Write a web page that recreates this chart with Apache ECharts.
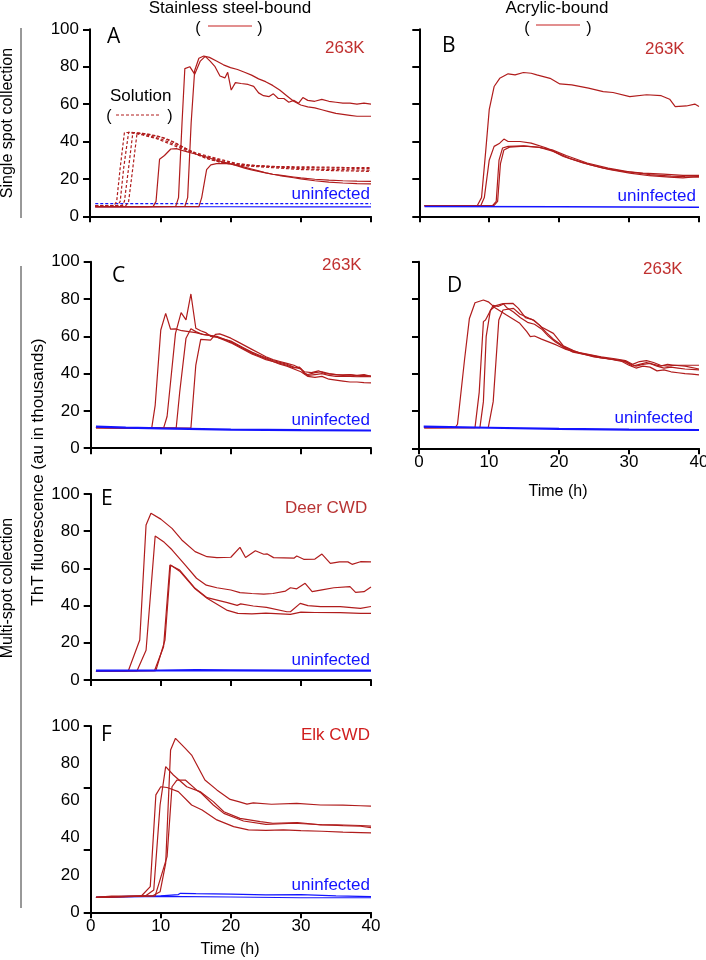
<!DOCTYPE html>
<html><head><meta charset="utf-8">
<script src="https://cdn.jsdelivr.net/npm/echarts@6/dist/echarts.min.js"></script>
<style>html,body{margin:0;padding:0;background:#fff}#c{width:706px;height:960px}</style>
</head><body><div id="c"></div><script>
// ---- axis ticks ----
const xTicks = [0, 10, 20, 30, 40];
const yTicks = [0, 20, 40, 60, 80, 100];
const fTickMarks = [0, 33.33, 66.67, 100];

// ---- Panel A (stainless steel, single spot) ----
const aSolution1 = [[0.75,5.6],[2,5.6],[3.4,5.7],[3.8,8],[4.3,26],[4.9,44.8],[5.5,44.8],[6.5,44.2],[7.5,43.5],[8.5,42.5],[9.5,41.5],[10.5,40],[11.5,38.5],[12.5,37],[13.5,35.5],[14.5,34],[15.5,33],[16.5,32],[17.5,31],[18.5,30],[19.5,29],[20.5,28.3],[22,27.6],[24,27],[26,26.6],[28,26.3],[30,26],[32,26],[34,25.8],[36,25.8],[38,25.6],[40,25.5]];
const aSolution2 = [[0.75,5.6],[2,5.6],[3.9,5.7],[4.3,8],[4.8,26],[5.5,45],[6.2,44.8],[7,44.2],[8,43.5],[9,42.5],[10,41.5],[11,40],[12,38.5],[13,37],[14,35.5],[15,34],[16,33],[17,32],[18,31],[19,30],[20,29],[21,28.2],[22.5,27.5],[24,27],[26,26.5],[28,26],[30,25.5],[32,25.2],[34,25],[36,25],[38,24.8],[40,24.6]];
const aSolution3 = [[0.75,5.6],[4.5,5.7],[4.9,8],[5.5,26],[6.1,44.8],[7,44.5],[8,44],[9,43.2],[10,42.5],[11,41],[12,39.5],[13,37.5],[14,35.5],[15,33.5],[16,32],[17,30.5],[18,29.5],[19,28.5],[20,28],[22,27],[24,26.5],[26,26],[28,25.5],[30,25],[32,24.8],[34,24.5],[36,24.3],[38,24.2],[40,24]];
const aSolution4 = [[0.75,5.6],[5.1,5.7],[5.5,8],[6.1,26],[6.7,44.5],[7.5,44.3],[8.5,43.8],[9.5,43],[10.5,42],[11.5,40.5],[12.5,38.5],[13.5,36.5],[14.5,34.5],[15.5,32.5],[16.5,31],[17.5,30],[18.5,29],[19.5,28.3],[21,27.5],[23,27],[25,26.8],[27,26.6],[29,26.5],[31,26.5],[33,26.3],[35,26.2],[37,26],[40,26]];
const aSteel1 = [[0.75,5.2],[4,5.2],[8,5.2],[9.0,5.3],[9.4,8],[9.9,30.5],[10.6,32.5],[11.5,36],[12.3,36.2],[13,35.3],[14,34.3],[15,33.3],[16,32.3],[17,31.2],[18,30],[19,29],[20,28],[21,27],[22,25.8],[23,24.8],[24,24],[25,23.2],[26,22.5],[27,22],[28,21.5],[29,21],[30,20.5],[32,19.8],[34,19.3],[36,19],[38,18.8],[40,18.7]];
const aSteel2 = [[0.75,5.2],[8,5.2],[15.5,5.2],[15.9,10],[16.6,25],[17.2,27.5],[18,28.2],[19,28.3],[20,28],[21,27.2],[22,26.3],[23,25.3],[24,24.3],[25,23.3],[26,22.5],[27,21.8],[28,21.2],[29,20.6],[30,20],[32,19],[34,18.3],[36,17.8],[38,17.5],[40,17.3]];
const aSteel3 = [[0.75,5.2],[8,5.2],[12.2,5.3],[12.6,10],[13.1,50],[13.5,79],[14.2,80],[14.9,76],[15.7,83],[16.4,85.5],[17.1,83],[17.8,80],[18.5,75],[19.2,74],[19.6,77],[20.1,67.5],[20.7,71.5],[21.5,71],[22.5,70.5],[23.3,69.5],[24,66],[24.7,64.5],[25.5,64],[26.1,65.5],[26.8,63],[27.6,63],[28.3,61],[29,62],[29.7,60.5],[30.3,63.5],[31,62],[32,61.5],[33,62.5],[34,61.5],[35,61],[36,60.5],[37,60.5],[38,60],[39,60.5],[40,60]];
const aSteel4 = [[0.75,5.2],[8,5.2],[13.5,5.3],[13.9,10],[14.4,50],[14.9,78],[15.5,84.5],[16.2,85.7],[17,85],[18,83],[19,81],[20,79.5],[21,78.5],[22,77],[23,75.5],[24,73.5],[25,72],[26,70],[27,67.5],[28,64.5],[29,61.5],[30,59.5],[31,58.5],[32,58],[33,57],[34,56],[35,55],[36,54.5],[37,54],[38,53.5],[39,53.5],[40,53.5]];
const aBlueSolid = [[0.75,5.2],[10,5.1],[20,5.1],[30,5.0],[40,5.0]];
const aBlueDashed = [[0.75,6.8],[20,6.8],[40,6.8]];

// ---- Panel B (acrylic, single spot) ----
const bAcryl1 = [[0.75,5.7],[5,5.7],[8.3,5.8],[8.9,10],[9.5,35],[10.0,57],[10.7,69.4],[11.5,73.8],[12.7,76.2],[13.7,75.6],[14.9,76.9],[16,76.5],[16.8,75.6],[18.7,73.8],[20.1,70.8],[21.8,70.3],[24.2,68.5],[26.3,66.7],[27.7,66.2],[30.1,64],[32.5,65],[34.6,64.5],[35.8,62.6],[36.6,58.7],[38.2,59],[39.4,60],[40,58.7]];
const bAcryl2 = [[0.75,5.7],[8.8,5.8],[9.3,10],[10.0,30],[10.7,37.4],[11.5,39.1],[12.1,41.3],[12.7,40],[14.4,40],[16,39.1],[18.2,36.5],[20.6,32],[23.4,28.5],[26.3,25.8],[29.2,24],[32,23.1],[34.9,22.6],[37.7,21.9],[40,21.9]];
const bAcryl3 = [[0.75,5.7],[10.5,5.8],[11.0,8],[11.4,30],[11.9,36.5],[12.7,37.4],[14.9,37.7],[17.2,36.8],[19.2,34.7],[21.5,31],[24.4,27.6],[27.3,24.9],[30.1,23.1],[32.9,21.7],[35.8,21],[37.7,20.5],[40,21.4]];
const bAcryl4 = [[0.75,5.7],[10.7,5.8],[11.2,8],[11.6,28],[12.1,35.5],[12.9,37],[15,37.5],[17,37],[19,35.5],[21,32.5],[24,28.5],[27,25.8],[30,23.8],[33,22.3],[36,21.5],[38,21.2],[40,21]];
const bBlue = [[0.75,5.3],[20,5.1],[40,4.9]];

// ---- Panel C (steel, multi spot, 263K) ----
const cSteel1 = [[0.75,11],[5,10.8],[8.7,10.6],[9.2,23],[10.0,63.4],[10.7,72.3],[11.4,63.8],[12.1,64],[13,63],[14,62.5],[15,62],[16,61],[17,60.5],[18,60],[19,58.5],[20,57.5],[21,55.5],[22,53.5],[23,51.5],[24,50],[25,48.5],[26,47],[27,46],[28,45],[29,43.5],[30,42.5],[30.5,40],[31,39.5],[32,40.5],[33,41],[34,40],[35,39.5],[36,39.3],[37,39.5],[38,39],[39,39.5],[40,38.5]];
const cSteel2 = [[0.75,11],[10.4,10.8],[10.9,17],[12.1,61.6],[12.9,72.7],[13.6,68.8],[14.3,82.7],[15,64.3],[15.7,63],[16.4,62],[17.1,60],[18,59.5],[19,58.5],[20,57],[21,55],[22,53],[23,51],[24,49.5],[25,48],[26,46.5],[27,45.5],[28,44.5],[29,43],[29.8,43.5],[30.5,40.5],[31,39],[32,39.5],[33,40],[34,39],[35,38.5],[36,38.5],[37,38.5],[38,38.3],[39,38.5],[40,38.3]];
const cSteel3 = [[0.75,11],[12.2,10.8],[12.7,30],[13.6,59],[14.3,64],[15,62.5],[16,61],[17,60.5],[18,59.5],[19,58],[20,56.5],[21,54.5],[22,52.5],[23,50.5],[24,49],[25,47.5],[26,46.5],[27,45],[28,44],[29,42.5],[30,41],[31,38.5],[32,38],[33,38.5],[34,37],[35,36.5],[36,36],[37,35.5],[38,35.5],[39,35.2],[40,35]];
const cSteel4 = [[0.75,11],[14.3,10.8],[15,44.6],[15.7,58.4],[17.1,58],[17.8,61],[18.4,61.3],[19,60.5],[20,59],[21,57],[22,55],[23,53],[24,51],[25,49],[26,47.5],[27,46.5],[28,45.5],[29,44.5],[29.8,43],[30.5,41],[31.5,40.5],[32.5,41.5],[33.5,40],[35,39.5],[36,39],[37,39.3],[38,38.8],[39,39],[40,38.7]];
const cBlue = [[0.75,11.6],[5,11],[10,10.6],[20,10],[30,9.7],[40,9.5]];

// ---- Panel D (acrylic, multi spot, 263K) ----
const dSteel1 = [[0.75,11.1],[3,11.1],[5.2,11.2],[5.5,12.9],[6.5,47.3],[7.2,69.6],[8,78],[9.2,79.5],[9.9,78.5],[10.8,75.5],[12.5,71.4],[14.4,67],[15.4,62.5],[15.9,59.8],[16.5,60.2],[17.5,58.5],[19.6,55.4],[21,53],[23,51],[25,49.5],[27,48],[29,46.5],[30,44.5],[31,43],[32,44],[33,43.5],[34,41.5],[35,42],[36,41],[37,40.5],[38,40],[39,39.8],[40,39.3]];
const dSteel2 = [[0.75,11.1],[8,11.1],[8.6,30],[9.2,67.9],[9.5,68.8],[10.6,76.6],[11.3,76],[12.1,77.3],[12.5,75.5],[13.5,73],[14.5,70],[15.5,67.5],[16.5,66.5],[17.5,64],[18.5,60],[19.5,57],[20.5,54.5],[22,51.5],[24,50],[26,48.5],[28,47.5],[29.5,46.5],[30.5,44],[31.5,45],[32.5,46],[33.5,45],[34.5,44],[35.5,45],[36.5,44.5],[38,44.5],[40,44.5]];
const dSteel3 = [[0.75,11.1],[8.7,11.1],[9.2,25],[9.6,60],[10.2,74],[11,76.5],[12,77.5],[13.4,77.7],[14.2,75],[15.2,70],[16.2,69],[17.2,66],[18.2,62],[19.2,58.5],[20.5,55],[22,52],[24,50.5],[26,49],[28,48],[29.5,47],[30.5,45],[31.5,46.5],[32.5,47],[33.5,46],[34.5,44.5],[35.5,44],[36.5,44.5],[38,44],[40,42.5]];
const dSteel4 = [[0.75,11.1],[9.9,11.2],[10.6,25],[11.4,68.8],[12,74.1],[13.5,75],[14.4,72],[15.8,69.6],[16.5,68.4],[17.5,65],[19.2,61.6],[20.6,55],[22,52.5],[23,51],[25,49],[27,48],[29,47],[30,45.5],[31,44],[32,45],[33,45.5],[34,44],[35,43],[36,43.5],[37,43],[38,42.5],[40,42]];
const dBlue = [[0.67,11.6],[10,11],[20,10.4],[30,10],[40,9.8]];

// ---- Panel E (steel, multi spot, Deer CWD) ----
const eSteel1 = [[0.75,4.8],[5,4.8],[5.4,5.2],[7.0,21.5],[7.9,83.3],[8.6,89.6],[10,86.5],[11.6,81.5],[13,75.3],[14.9,69],[16.6,66.3],[18,65.8],[20,66],[21.3,71.3],[22.1,65.9],[23.5,69.5],[24.7,67.6],[25.2,67.8],[26.1,65.8],[29,65.5],[29.4,66.7],[30.4,64.9],[32,65],[33,67.7],[34.2,62.7],[35.5,63.5],[36.7,63.5],[37.3,62.2],[38.5,63.6],[40,63.5]];
const eSteel2 = [[0.75,4.8],[6.6,4.9],[7.9,16],[9.2,77.4],[10.5,74],[11.6,70],[13.5,61.8],[15.1,54.7],[16.5,51],[18,49.6],[20,48.4],[21.3,47],[23,46.5],[24.7,46.2],[26,46.5],[27.8,47.8],[28.5,49.6],[29.4,49],[30.6,52],[31.6,47.5],[33,48.5],[34.7,49.6],[37,50.2],[37.8,47.1],[39,47.5],[40,50]];
const eSteel3 = [[0.75,4.8],[9.1,5],[10.4,17.9],[11.3,61.8],[12.7,59.1],[14.9,49.3],[16.6,44.3],[19.5,41.6],[20.9,40.1],[21.4,40.9],[23.2,39.8],[25.1,39],[28,36.7],[28.5,36.7],[29.9,41.2],[31,40],[32.8,39.4],[35.6,39.4],[38.5,38.5],[40,39.5]];
const eSteel4 = [[0.75,4.8],[9.3,5],[10.6,21.5],[11.4,61.8],[12.7,58.5],[14.9,49],[16.6,44],[19.4,37.6],[21,35.8],[23,35.5],[25,36],[28.5,35.3],[30,36.5],[32,36.3],[35.6,36.2],[38.5,35.8],[40,35.8]];
const eBlue = [[0.75,5],[10,5.1],[15,5.3],[20,5.2],[30,5.0],[40,5.0]];

// ---- Panel F (steel, multi spot, Elk CWD) ----
const fSteel1 = [[0.75,8],[3,8.7],[7.0,8.8],[7.3,9],[8.5,13.8],[9.3,63],[10,67.4],[10.9,67],[12.5,64.8],[14.4,57.6],[15.9,54.9],[18,49.6],[20.4,46],[22.5,44.2],[25,44],[27.5,44.2],[30,43.8],[33,43.5],[36,43],[38.5,42.8],[40,42.6]];
const fSteel2 = [[0.75,8],[7.8,8.8],[9,12],[9.9,57.6],[10.7,78.2],[11.8,73.7],[13.7,67.4],[15.6,64.8],[17.5,59.4],[19,54],[21.3,50.4],[24.2,48.7],[26,47.8],[29.5,48.2],[32.8,46.9],[35,47],[38.5,46.6],[40,46.3]];
const fSteel3 = [[0.75,8],[8.8,8.8],[9.9,11],[10.7,26.3],[11.4,87.1],[12.1,93.4],[13.5,88],[14.4,84.4],[16.3,71],[18,65.7],[19.9,60.6],[21.1,59.4],[22.3,58.1],[23.2,58.7],[25.8,58],[29.4,58.5],[32.8,57.6],[36,57.5],[38.5,57.2],[40,57]];
const fSteel4 = [[0.75,8],[9.2,8.8],[10.9,29.9],[11.6,67.4],[12.3,71],[13.5,71],[15.1,65.7],[15.8,63.9],[17.5,57.6],[19,53.1],[21.8,49],[25,47.2],[29,47.8],[33,47],[36,46.5],[38.5,46.2],[40,45.5]];
const fBlue1 = [[0.75,8],[5,8.5],[10,8.8],[12.5,9.5],[12.8,10.2],[15,10],[20,9.8],[25,9.3],[30,9.5],[35,8.8],[40,8.4]];
const fBlue2 = [[0.75,8],[10,8.6],[20,8.2],[30,7.8],[40,7.8]];

// ---- panel labels ----
const panelLetters = ['A','B','C','D','E','F'];
const sampleLabels = ['263K','263K','263K','263K','Deer CWD','Elk CWD'];
const uninfectedLabel = 'uninfected';

const RED = '#b01c1c', BLUE = '#1414ff', FONT = '"Liberation Sans", Arial, sans-serif';
const grids = [
  {left:90, top:29.3, width:281, height:187},
  {left:419.3, top:29.3, width:279.7, height:187},
  {left:90.7, top:261.7, width:280.3, height:186.5},
  {left:419, top:261.7, width:280, height:186.6},
  {left:90.7, top:494, width:280.3, height:186},
  {left:90.7, top:726, width:280.3, height:186.3}
];
const xLabelShown = [false,false,false,true,false,true];
const yLabelShown = [true,false,true,false,true,true];

const axisLineStyle = {color:'#000', width:2};
const xAxes = grids.map((g,i)=>({
  gridIndex:i, type:'value', min:xTicks[0], max:xTicks[xTicks.length-1], interval:10,
  axisLine:{show:true, onZero:false, lineStyle:axisLineStyle},
  axisTick:{show:true, length:6, lineStyle:axisLineStyle},
  axisLabel:{show:xLabelShown[i], margin:6, fontSize:17, color:'#000', fontFamily:FONT},
  splitLine:{show:false}
}));
const yAxes = grids.map((g,i)=>({
  gridIndex:i, type:'value', min:yTicks[0], max:yTicks[yTicks.length-1], interval:20,
  axisLine:{show:true, onZero:false, lineStyle:axisLineStyle},
  axisTick: i===5 ? {show:true, length:7, lineStyle:axisLineStyle, customValues:fTickMarks}
                  : {show:true, length:7, lineStyle:axisLineStyle},
  axisLabel:{show:yLabelShown[i], margin:11, fontSize:17, color:'#000', fontFamily:FONT},
  splitLine:{show:false}
}));

function line(i, data, color, opts){
  opts = opts || {};
  return {type:'line', xAxisIndex:i, yAxisIndex:i, data:data, symbol:'none', silent:true,
    animation:false, z: opts.z || 2,
    lineStyle:{color:color, width:opts.width||1.2, type:opts.type||'solid'}};
}
const series = [
  line(0,aBlueSolid,BLUE), line(0,aBlueDashed,BLUE,{type:[3,2]}),
  line(0,aSolution1,RED,{type:[3,2]}), line(0,aSolution2,RED,{type:[3,2]}),
  line(0,aSolution3,RED,{type:[3,2]}), line(0,aSolution4,RED,{type:[3,2]}),
  line(0,aSteel1,RED), line(0,aSteel2,RED), line(0,aSteel3,RED), line(0,aSteel4,RED),
  line(1,bAcryl1,RED), line(1,bAcryl2,RED), line(1,bAcryl3,RED), line(1,bAcryl4,RED), line(1,bBlue,BLUE,{width:1.5}),
  line(2,cSteel1,RED), line(2,cSteel2,RED), line(2,cSteel3,RED), line(2,cSteel4,RED), line(2,cBlue,BLUE,{width:2.2,z:3}),
  line(3,dSteel1,RED), line(3,dSteel2,RED), line(3,dSteel3,RED), line(3,dSteel4,RED), line(3,dBlue,BLUE,{width:2.2,z:3}),
  line(4,eSteel1,RED), line(4,eSteel2,RED), line(4,eSteel3,RED), line(4,eSteel4,RED), line(4,eBlue,BLUE,{width:2.2,z:3}),
  line(5,fBlue1,BLUE), line(5,fBlue2,BLUE),
  line(5,fSteel1,RED,{z:3}), line(5,fSteel2,RED,{z:3}), line(5,fSteel3,RED,{z:3}), line(5,fSteel4,RED,{z:3})
];

function txt(text, x, y, size, fill, align, family, rot){
  return {type:'text', x:x, y:y, rotation: rot||0, silent:true,
    style:{text:text, fill:fill||'#000', font: (size||16)+'px '+(family||FONT),
      textAlign:align||'left', align:align||'left', textVerticalAlign:'middle', verticalAlign:'middle'}};
}
function seg(x1,y1,x2,y2,color,w,dash){
  return {type:'line', silent:true, shape:{x1:x1,y1:y1,x2:x2,y2:y2},
    style:{stroke:color, lineWidth:w||1, lineDash:dash||null}};
}
const LETTER_FONT = '"Open Sans", "Liberation Sans", sans-serif';
const SAMPLE_RED = '#c0302f';
const LEG_RED = '#d86a6a';
const graphics = [
  txt('Stainless steel-bound', 230, 8, 17, '#000', 'center'),
  txt('(', 198, 29, 16, '#000', 'center'), seg(208,26,252,26,LEG_RED,1.5), txt(')', 260, 29, 16, '#000', 'center'),
  txt('Acrylic-bound', 557, 8, 17, '#000', 'center'),
  txt('(', 527, 29, 16, '#000', 'center'), seg(536,25,580,25,LEG_RED,1.5), txt(')', 589, 29, 16, '#000', 'center'),
  txt('Solution', 110, 96, 17, '#000', 'left'),
  txt('(', 109, 117, 16, '#000', 'center'), seg(116,115,161,115,RED,1,[3,2]), txt(')', 170, 117, 16, '#000', 'center'),
  txt(panelLetters[0], 107, 37, 21, '#000', 'left', LETTER_FONT),
  txt(panelLetters[1], 442, 46, 21, '#000', 'left', LETTER_FONT),
  txt(panelLetters[2], 112, 276, 21, '#000', 'left', LETTER_FONT),
  txt(panelLetters[3], 447, 286, 21, '#000', 'left', LETTER_FONT),
  txt(panelLetters[4], 101, 499, 21, '#000', 'left', LETTER_FONT),
  txt(panelLetters[5], 101, 735, 21, '#000', 'left', LETTER_FONT),
  txt(sampleLabels[0], 325, 48, 17, SAMPLE_RED, 'left'),
  txt(sampleLabels[1], 645, 49, 17, SAMPLE_RED, 'left'),
  txt(sampleLabels[2], 322, 265, 17, SAMPLE_RED, 'left'),
  txt(sampleLabels[3], 643, 269, 17, SAMPLE_RED, 'left'),
  txt(sampleLabels[4], 285, 508, 17, '#b83434', 'left'),
  txt(sampleLabels[5], 301, 735, 17, '#d01e1e', 'left'),
  txt(uninfectedLabel, 370, 194, 17, BLUE, 'right'),
  txt(uninfectedLabel, 696, 196, 17, BLUE, 'right'),
  txt(uninfectedLabel, 370, 420, 17, BLUE, 'right'),
  txt(uninfectedLabel, 693, 418, 17, BLUE, 'right'),
  txt(uninfectedLabel, 370, 660, 17, BLUE, 'right'),
  txt(uninfectedLabel, 370, 885, 17, BLUE, 'right'),
  txt('Time (h)', 558, 492, 16, '#000', 'center'),
  txt('Time (h)', 230, 950, 16, '#000', 'center'),
  seg(21,28,21,218,'#333',1),
  seg(21,266,21,908,'#333',1),
  txt('Single spot collection', 8, 123, 16, '#000', 'center', FONT, Math.PI/2),
  txt('Multi-spot collection', 8, 588, 16, '#000', 'center', FONT, Math.PI/2),
  txt('ThT fluorescence (au in thousands)', 38, 472, 17, '#000', 'center', FONT, Math.PI/2)
];

const chart = echarts.init(document.getElementById('c'), null, {renderer:'canvas'});
chart.setOption({
  animation:false,
  backgroundColor:'#fff',
  grid: grids.map(g=>Object.assign({outerBoundsMode:'none', containLabel:false}, g)),
  xAxis: xAxes, yAxis: yAxes, series: series, graphic: graphics
});
</script></body></html>
